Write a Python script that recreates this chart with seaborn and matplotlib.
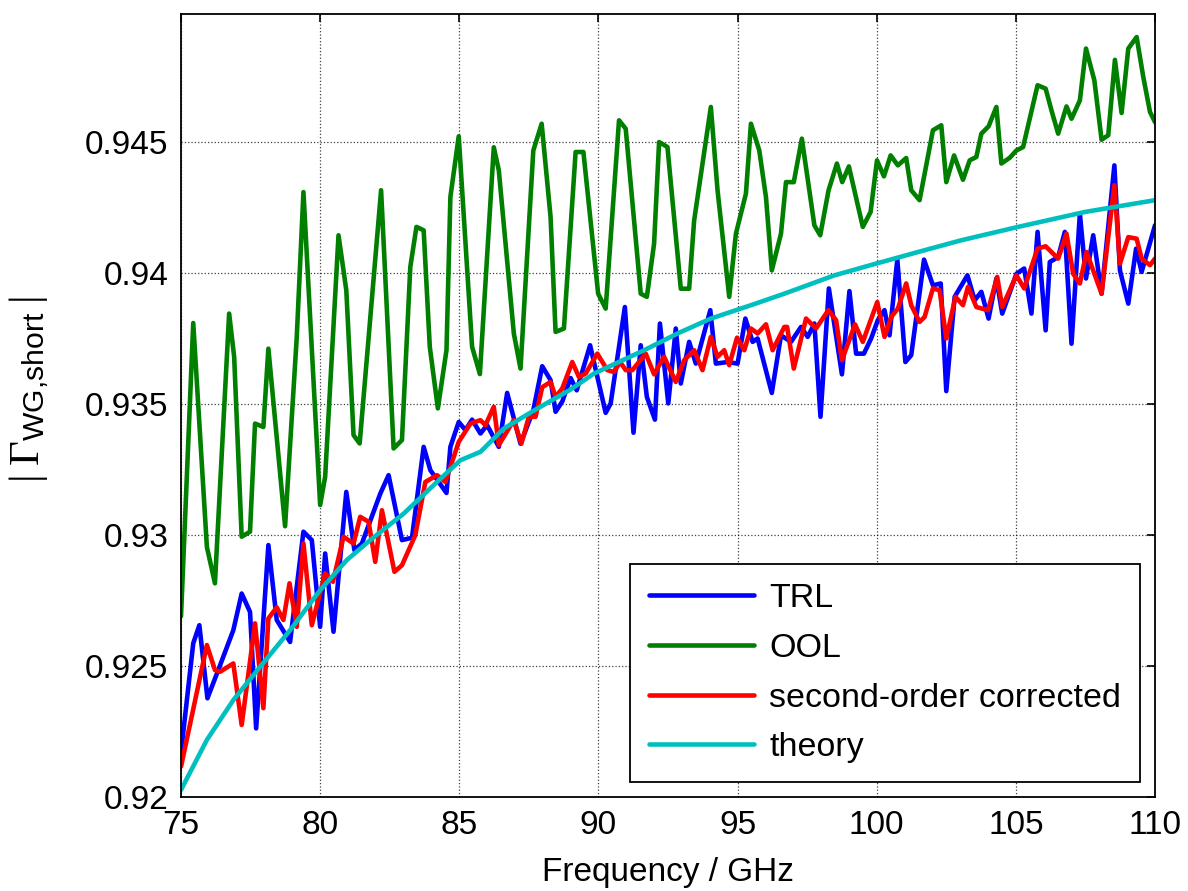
import numpy as np
import pandas as pd
import matplotlib
matplotlib.use("Agg")
import matplotlib.pyplot as plt
import seaborn as sns
from matplotlib.ticker import FuncFormatter

# ---------------- data ----------------
f_ool = [75.0, 75.44, 75.93, 76.22, 76.73, 76.91, 77.18, 77.48, 77.66, 77.96, 78.14, 78.74, 79.16, 79.40,
         80.0, 80.18, 80.66, 80.94, 81.20, 81.42, 82.19, 82.64, 82.94, 83.24, 83.46, 83.72, 83.94, 84.23,
         84.54, 84.68, 84.98, 85.46, 85.74, 86.24, 86.42, 86.96, 87.20, 87.66, 87.96, 88.28, 88.46, 88.76,
         89.18, 89.46, 89.99, 90.26, 90.74, 90.98, 91.52, 91.74, 92.0, 92.18, 92.48, 92.96, 93.26, 93.44,
         94.04, 94.28, 94.70, 94.94, 95.30, 95.48, 95.78, 96.02, 96.23, 96.56, 96.74, 97.02, 97.31, 97.76,
         97.97, 98.27, 98.57, 98.76, 99.0, 99.50, 99.78, 100.01, 100.26, 100.50, 100.76, 101.06, 101.24,
         101.54, 102.02, 102.32, 102.50, 102.78, 103.10, 103.34, 103.58, 103.76, 104.02, 104.30, 104.48,
         104.78, 105.02, 105.26, 105.78, 106.07, 106.28, 106.52, 106.82, 107.0, 107.30, 107.52, 107.82,
         108.08, 108.32, 108.56, 108.80, 109.04, 109.34, 109.58, 109.82, 110.0]
v_ool = [0.9269, 0.9381, 0.92955, 0.92816, 0.93846, 0.93681, 0.92994, 0.93013, 0.93426, 0.93413, 0.93712,
         0.93034, 0.93757, 0.9431, 0.93115, 0.93223, 0.94145, 0.93935, 0.93382, 0.9335, 0.94317, 0.93331,
         0.93363, 0.94024, 0.94177, 0.94164, 0.93719, 0.93484, 0.93706, 0.94291, 0.94523, 0.93719, 0.93615,
         0.94481, 0.94393, 0.9377, 0.93636, 0.94469, 0.94571, 0.94215, 0.93776, 0.93789, 0.94463, 0.94463,
         0.93922, 0.93865, 0.94584, 0.94552, 0.93922, 0.9391, 0.94113, 0.94501, 0.94482, 0.93941, 0.93941,
         0.94202, 0.94635, 0.94317, 0.9391, 0.94151, 0.94304, 0.94571, 0.94469, 0.94291, 0.94011, 0.94151,
         0.94348, 0.94348, 0.94514, 0.94183, 0.94145, 0.94317, 0.94419, 0.94348, 0.94408, 0.94177, 0.94234,
         0.94431, 0.9437, 0.9445, 0.94412, 0.9444, 0.94317, 0.94279, 0.94546, 0.94565, 0.94348, 0.9445,
         0.94357, 0.94431, 0.94444, 0.94533, 0.94561, 0.94635, 0.94419, 0.94441, 0.94469, 0.94482, 0.94718,
         0.94705, 0.94622, 0.94533, 0.94637, 0.9459, 0.9466, 0.94858, 0.94737, 0.9451, 0.94527, 0.94815,
         0.94612, 0.94858, 0.94902, 0.94749, 0.94616, 0.94577]

f_trl = [75.0, 75.44, 75.66, 75.95, 76.34, 76.88, 77.18, 77.48, 77.70, 78.14, 78.44, 78.92, 79.40, 79.70,
         80.0, 80.18, 80.48, 80.94, 81.23, 81.50, 82.16, 82.46, 82.94, 83.30, 83.72, 83.96, 84.54, 84.68,
         84.98, 85.22, 85.46, 85.76, 86.0, 86.42, 86.72, 87.20, 87.66, 87.98, 88.28, 88.46, 88.70, 89.0,
         89.22, 89.70, 90.26, 90.44, 90.95, 91.26, 91.52, 91.74, 92.03, 92.21, 92.51, 92.78, 92.96, 93.26,
         93.50, 94.02, 94.22, 94.64, 95.0, 95.28, 95.54, 95.72, 96.23, 96.56, 96.92, 97.28, 97.52, 97.76,
         97.98, 98.28, 98.75, 99.02, 99.26, 99.54, 99.80, 100.04, 100.28, 100.46, 100.74, 101.03, 101.24,
         101.70, 102.02, 102.30, 102.50, 102.80, 103.26, 103.52, 103.76, 104.02, 104.30, 104.51, 105.02,
         105.30, 105.56, 105.78, 106.07, 106.22, 106.52, 106.76, 107.0, 107.30, 107.52, 107.78, 108.08,
         108.54, 108.74, 109.04, 109.32, 109.52, 110.0]
v_trl = [0.92170, 0.92587, 0.92656, 0.92377, 0.92485, 0.92637, 0.92777, 0.92707, 0.92262, 0.92962, 0.92676,
         0.92592, 0.93013, 0.92981, 0.9265, 0.9293, 0.92631, 0.93165, 0.92943, 0.92968, 0.93158, 0.93229,
         0.92981, 0.9299, 0.93337, 0.93248, 0.93161, 0.93337, 0.93432, 0.93401, 0.93441, 0.93388, 0.9342,
         0.93337, 0.93543, 0.93349, 0.93477, 0.93645, 0.93592, 0.93471, 0.9351, 0.9360, 0.93553, 0.93725,
         0.93467, 0.93503, 0.93871, 0.93391, 0.93725, 0.93528, 0.93441, 0.93808, 0.93503, 0.93789, 0.93579,
         0.93738, 0.93655, 0.93859, 0.93655, 0.93661, 0.93655, 0.93827, 0.93738, 0.93751, 0.93543, 0.93763,
         0.93738, 0.93795, 0.93757, 0.93808, 0.93452, 0.93942, 0.93614, 0.93932, 0.93693, 0.93693, 0.93751,
         0.93821, 0.93859, 0.93763, 0.94052, 0.93661, 0.93687, 0.94052, 0.93954, 0.93961, 0.9355, 0.9391,
         0.93992, 0.93897, 0.93929, 0.93827, 0.9398, 0.93846, 0.93998, 0.94018, 0.93846, 0.94158, 0.93782,
         0.94043, 0.94062, 0.94158, 0.93731, 0.94227, 0.9398, 0.94145, 0.93922, 0.94412, 0.94011, 0.93884,
         0.94094, 0.94005, 0.94183]

f_soc = [75.0, 75.93, 76.22, 76.40, 76.88, 77.18, 77.66, 77.96, 78.14, 78.44, 78.68, 78.90, 79.16, 79.40,
         79.70, 80.18, 80.46, 80.84, 81.20, 81.44, 81.74, 81.98, 82.22, 82.67, 82.94, 83.42, 83.78, 84.20,
         84.50, 84.98, 85.40, 85.76, 85.94, 86.24, 86.42, 86.96, 87.23, 87.50, 87.74, 87.98, 88.28, 88.46,
         88.70, 89.06, 89.30, 89.54, 89.96, 90.32, 90.56, 90.78, 90.98, 91.22, 91.70, 92.0, 92.36, 92.78,
         93.08, 93.44, 93.74, 94.04, 94.28, 94.52, 94.70, 94.98, 95.24, 95.48, 95.72, 96.02, 96.26, 96.68,
         96.78, 97.02, 97.46, 97.82, 98.26, 98.54, 98.75, 99.22, 99.50, 100.02, 100.28, 100.52, 100.76,
         101.06, 101.24, 101.54, 101.72, 102.02, 102.26, 102.50, 102.83, 103.10, 103.28, 103.58, 104.0,
         104.33, 104.51, 105.02, 105.30, 105.78, 106.07, 106.52, 106.82, 107.06, 107.30, 107.54, 108.08,
         108.54, 108.74, 109.04, 109.34, 109.52, 109.82, 110.0]
v_soc = [0.92116, 0.9258, 0.92485, 0.92478, 0.9251, 0.92275, 0.92663, 0.92339, 0.92682, 0.92724, 0.92676,
         0.92816, 0.9265, 0.92968, 0.92656, 0.92854, 0.92822, 0.92994, 0.92968, 0.9307, 0.93051, 0.92898,
         0.93095, 0.9286, 0.92885, 0.93, 0.93203, 0.93229, 0.93203, 0.93356, 0.93426, 0.93439, 0.9342,
         0.9349, 0.93344, 0.93439, 0.93349, 0.93452, 0.93452, 0.93565, 0.93585, 0.93528, 0.9356, 0.93661,
         0.93604, 0.93617, 0.93693, 0.9363, 0.93623, 0.93661, 0.9363, 0.9363, 0.93693, 0.93614, 0.93681,
         0.93585, 0.93668, 0.93706, 0.9363, 0.93757, 0.93681, 0.93706, 0.93649, 0.93754, 0.93706, 0.93789,
         0.9377, 0.93805, 0.93706, 0.93795, 0.93795, 0.93636, 0.93827, 0.93789, 0.93859, 0.93821, 0.93668,
         0.93805, 0.93738, 0.9389, 0.93757, 0.93833, 0.93865, 0.93961, 0.93878, 0.93814, 0.93833, 0.93942,
         0.93935, 0.93751, 0.9391, 0.93878, 0.93948, 0.93871, 0.93859, 0.93986, 0.93871, 0.93992, 0.93942,
         0.94094, 0.94103, 0.94056, 0.94151, 0.93998, 0.93961, 0.94081, 0.93922, 0.94336, 0.94036, 0.94138,
         0.94132, 0.94056, 0.94031, 0.94056]

f_th = [75.0, 75.93, 76.88, 77.84, 78.92, 80.0, 80.96, 81.80, 83.0, 84.20, 85.04, 85.76, 86.60, 87.80,
        89.0, 89.84, 91.64, 92.84, 94.04, 95.48, 96.68, 98.48, 99.98, 101.48, 103.04, 105.08, 107.48, 110.0]
v_th = [0.92027, 0.92218, 0.9237, 0.92497, 0.92637, 0.9279, 0.92905, 0.92981, 0.93082, 0.93203, 0.93286,
        0.93318, 0.93407, 0.93483, 0.93556, 0.93617, 0.93706, 0.9377, 0.93827, 0.93878, 0.93922, 0.93992,
        0.94037, 0.94081, 0.94126, 0.94177, 0.94234, 0.94279]

labels = ["TRL", "OOL", "second-order corrected", "theory"]
x_ticks = [75, 80, 85, 90, 95, 100, 105, 110]
y_ticks = [0.92, 0.925, 0.93, 0.935, 0.94, 0.945]

# ---------------- style ----------------
sns.set_style("white")
plt.rcParams["font.family"] = ["Liberation Sans", "DejaVu Sans"]
plt.rcParams["mathtext.fontset"] = "custom"
plt.rcParams["mathtext.rm"] = "Liberation Serif"
plt.rcParams["mathtext.sf"] = "Liberation Sans"
plt.rcParams["mathtext.it"] = "Liberation Serif:italic"
plt.rcParams["text.color"] = "black"
plt.rcParams["axes.labelcolor"] = "black"
plt.rcParams["xtick.color"] = "black"
plt.rcParams["ytick.color"] = "black"

colors = ["#0000ff", "#007f00", "#ff0000", "#00bfbf"]

fig = plt.figure(figsize=(11.88, 8.91), dpi=100)
ax = fig.add_axes([181 / 1188, 1 - 797 / 891, (1155 - 181) / 1188, (797 - 14) / 891])

series = [(f_trl, v_trl), (f_ool, v_ool), (f_soc, v_soc), (f_th, v_th)]
for (fx, vy), lab, col in zip(series, labels, colors):
    df = pd.DataFrame({"f": fx, "v": vy})
    sns.lineplot(data=df, x="f", y="v", ax=ax, color=col, lw=3.3, label=lab,
                 sort=False, estimator=None)

ax.set_xlim(75, 110)
ax.set_ylim(0.92, 0.9499)
ax.set_xticks(x_ticks)
ax.set_yticks(y_ticks)
ax.yaxis.set_major_formatter(FuncFormatter(lambda v, p: "%g" % round(v, 4)))
ax.grid(True, color="k", linestyle=":", linewidth=0.9, alpha=0.75)
ax.tick_params(direction="in", length=6, width=1.2, top=True, right=True,
               labelsize=24, pad=9, colors="k")
for s in ax.spines.values():
    s.set_linewidth(1.3)
    s.set_color("k")

ax.set_xlabel("Frequency / GHz", fontsize=24, color="k")
ax.set_ylabel(r"$|\;\Gamma_{\mathsf{WG{,}short}}\;|$", fontsize=31, color="k")
ax.xaxis.set_label_coords(0.5, -0.077)
ax.yaxis.set_label_coords(-0.133, 0.52)

leg = ax.legend(loc="lower right", bbox_to_anchor=((1140 - 181) / 974, (797 - 782) / 783),
                fontsize=24.5, handlelength=3.1, handletextpad=0.45, labelspacing=0.55,
                borderpad=0.55, borderaxespad=0.0, fancybox=False, framealpha=1,
                edgecolor="k")
leg.get_frame().set_linewidth(1.3)
for t in leg.get_texts():
    t.set_color("k")

fig.savefig("out.png", dpi=100)
